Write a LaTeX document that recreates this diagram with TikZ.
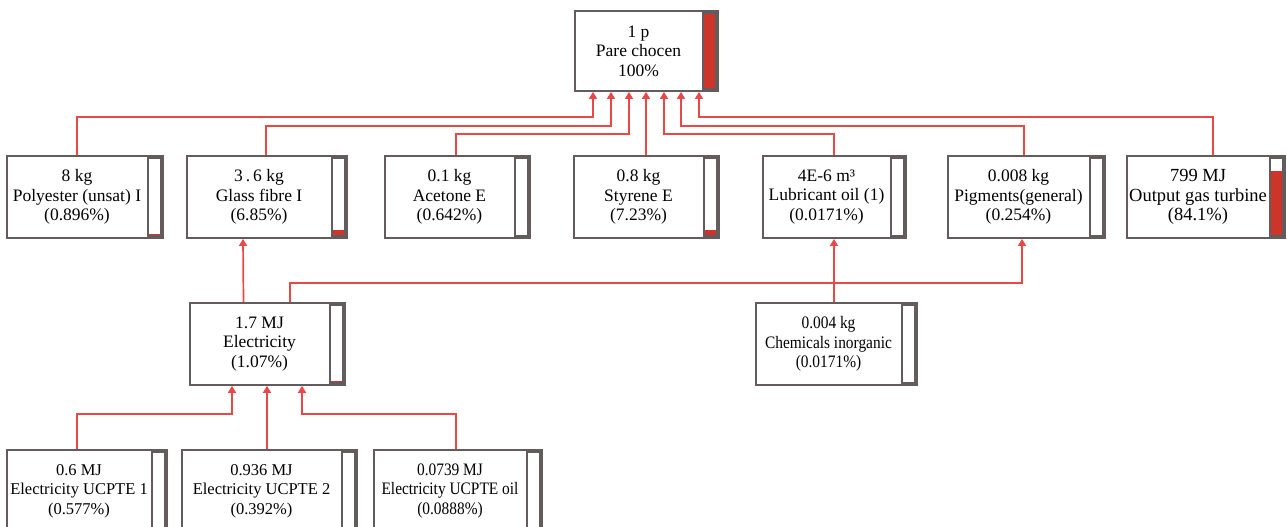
\documentclass[tikz,border=0pt]{standalone}
\usepackage{fontspec}
\setmainfont{Liberation Serif}
\newfontfamily\narrowserif{Liberation Serif}[FakeStretch=0.88]
\usetikzlibrary{arrows.meta, calc}

\definecolor{flowred}{RGB}{232,72,72}
\definecolor{barred}{RGB}{205,52,42}
\definecolor{boxgray}{RGB}{100,92,92}

\begin{document}
\begin{tikzpicture}[
    x=1pt, y=-1pt,
    proc/.style={rectangle, draw=boxgray, line width=1.8pt, fill=white,
                 minimum width=#1, minimum height=82pt, inner sep=0pt},
    txt/.style={align=center, inner sep=0pt, font=\fontsize{#1}{19.5}\selectfont},
    txt/.default=17.5,
    narrow/.style={font=\narrowserif\fontsize{17.5}{19.5}\selectfont},
    flow/.style={-{Triangle[length=7pt, width=8pt]}, line width=1.7pt, color=flowred},
    bar/.style={draw=boxgray, line width=1.3pt},
]
    \useasboundingbox (0,0) rectangle (1287,527);
    \clip (0,0) rectangle (1287,527);

    % top process
    \node[proc=143pt, minimum height=80pt] (pare) at (646.5,51) {};

    % first level
    \node[proc=156pt] (polyester) at (85,197) {};
    \node[proc=160pt] (glass) at (267,197) {};
    \node[proc=145pt] (acetone) at (457.5,197) {};
    \node[proc=145pt] (styrene) at (646.5,197) {};
    \node[proc=143pt] (lubricant) at (834.5,197) {};
    \node[proc=157pt] (pigments) at (1026.5,197) {};
    \node[proc=158pt] (turbine) at (1206,197) {};

    % second level
    \node[proc=155pt] (elec) at (267.5,344) {};
    \node[proc=161pt] (chem) at (836.5,344) {};

    % third level
    \node[proc=160pt] (ucpte1) at (87,491) {};
    \node[proc=175pt] (ucpte2) at (269.5,491) {};
    \node[proc=168pt] (ucpteoil) at (458,491) {};

    % labels
    \node[txt] (pare-t) at ([xshift=-8pt]pare.center) {1 p\\Pare chocen\\100\%};
    \node[txt] (polyester-t) at ([xshift=-8pt]polyester.center) {8 kg\\Polyester (unsat) I\\(0.896\%)};
    \node[txt] (glass-t) at ([xshift=-8pt]glass.center) {3\,.\,6 kg\\Glass fibre I\\(6.85\%)};
    \node[txt] (acetone-t) at ([xshift=-8pt]acetone.center) {0.1 kg\\Acetone E\\(0.642\%)};
    \node[txt] (styrene-t) at ([xshift=-8pt]styrene.center) {0.8 kg\\Styrene E\\(7.23\%)};
    \node[txt] (lubricant-t) at ([xshift=-8pt]lubricant.center) {4E-6 m³\\Lubricant oil (1)\\(0.0171\%)};
    \node[txt] (pigments-t) at ([xshift=-8pt]pigments.center) {0.008 kg\\Pigments(general)\\(0.254\%)};
    \node[txt=18.5] (turbine-t) at ([xshift=-8pt]turbine.center) {799 MJ\\Output gas turbine\\(84.1\%)};
    \node[txt] (elec-t) at ([xshift=-8pt]elec.center) {1.7 MJ\\Electricity\\(1.07\%)};
    \node[txt, narrow] (chem-t) at ([xshift=-8pt]chem.center) {0.004 kg\\Chemicals inorganic\\(0.0171\%)};
    \node[txt=16.5] (ucpte1-t) at ([xshift=-8pt]ucpte1.center) {0.6 MJ\\Electricity UCPTE 1\\(0.577\%)};
    \node[txt=16.5] (ucpte2-t) at ([xshift=-8pt]ucpte2.center) {0.936 MJ\\Electricity UCPTE 2\\(0.392\%)};
    \node[txt, narrow] (ucpteoil-t) at ([xshift=-8pt]ucpteoil.center) {0.0739 MJ\\Electricity UCPTE oil\\(0.0888\%)};

    % share bars
    \foreach \n/\f in {pare/1, polyester/0.025, glass/0.08, acetone/0, styrene/0.07,
                       lubricant/0, pigments/0, turbine/0.84, elec/0.02, chem/0,
                       ucpte1/0, ucpte2/0, ucpteoil/0} {
        \fill[barred] ([xshift=-16pt, yshift=3pt]\n.south east) rectangle
            ($([xshift=-3pt, yshift=3pt]\n.south east)!\f!([xshift=-3pt, yshift=-3pt]\n.north east)$);
        \draw[bar] ([xshift=-16pt, yshift=-3pt]\n.north east) rectangle ([xshift=-3pt, yshift=3pt]\n.south east);
    }

    % flows into the top process
    \foreach \src/\dx/\tx/\h in {polyester/-8pt/-53.5pt/-25pt, glass/-1pt/-35.5pt/-34pt,
                                 acetone/-1.5pt/-17.5pt/-42pt, styrene/-0.5pt/-0.5pt/-30pt,
                                 lubricant/-0.5pt/17.5pt/-42pt, pigments/-2.5pt/34.5pt/-34pt,
                                 turbine/7pt/52.5pt/-25pt} {
        \draw[flow] ([xshift=\dx]\src.north) |- ([xshift=\tx, yshift=\h]pare.south)
            -- ([xshift=\tx]pare.south);
    }

    % flows into the first level
    \draw[flow] ([xshift=-24pt]elec.north) -- ([xshift=-24pt]glass.south);
    \draw[flow] ([xshift=22.5pt]elec.north) |- ([xshift=-4.5pt, yshift=-44pt]pigments.south)
        -- ([xshift=-4.5pt]pigments.south);
    \draw[flow] ([xshift=-2.5pt]chem.north) -- ([xshift=-0.5pt]lubricant.south);

    % flows into electricity
    \draw[flow] ([xshift=-10pt]ucpte1.north) |- ([xshift=-35.5pt, yshift=-28pt]elec.south)
        -- ([xshift=-35.5pt]elec.south);
    \draw[flow] ([xshift=-2.5pt]ucpte2.north) -- ([xshift=-0.5pt]elec.south);
    \draw[flow] ([xshift=-2pt]ucpteoil.north) |- ([xshift=34.5pt, yshift=-28pt]elec.south)
        -- ([xshift=34.5pt]elec.south);
\end{tikzpicture}
\end{document}
